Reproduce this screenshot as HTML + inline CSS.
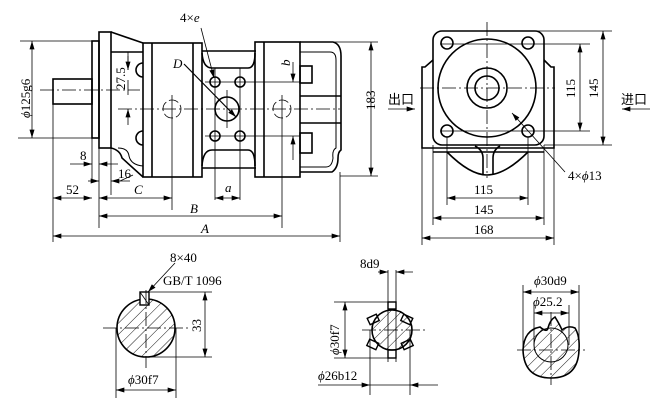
<!DOCTYPE html>
<html><head><meta charset="utf-8"><style>
html,body{margin:0;padding:0;background:#fff;}
svg{display:block;}
text{font-family:"Liberation Serif","Noto Serif CJK SC",serif;font-size:13px;fill:#000;}
.it{font-style:italic;}
.cjk{font-family:"Noto Sans CJK SC","WenQuanYi Zen Hei",sans-serif;font-size:13px;}
</style></head><body>
<svg width="661" height="415" viewBox="0 0 661 415" xmlns="http://www.w3.org/2000/svg">
<defs>
<marker id="ar" viewBox="0 0 10 6" refX="10" refY="3" markerWidth="9" markerHeight="5" orient="auto-start-reverse" markerUnits="userSpaceOnUse"><path d="M0,0 L10,3 L0,6 z" fill="#000"/></marker>
<pattern id="h" width="8" height="8" patternUnits="userSpaceOnUse" patternTransform="rotate(45)"><line x1="0" y1="0" x2="0" y2="8" stroke="#000" stroke-width="0.9"/></pattern>
</defs>
<g fill="none" stroke="#000" stroke-width="1.6">
<rect x="53" y="79" width="39" height="25"/>
<rect x="92" y="41" width="7" height="97"/>
<rect x="99" y="32" width="12" height="116"/>
<path d="M111,32 L143,43"/>
<path d="M111,52 L143,52"/>
<path d="M111,148 Q120,150 122,158 L143,177"/>
<path d="M118,148 Q128,148 129,156 Q131,165 143,166" stroke-width="1"/>
<path d="M143,63 A6,6 0 0 0 143,77 M143,131 A6,6 0 0 0 143,145"/>
<rect x="143" y="43" width="59" height="134"/>
<path d="M152,43 V177 M193,43 V177"/>
<path d="M202,51 H256 M202,168 H256"/>
<path d="M202,53 Q203,68 212,68 H248 Q255,68 255,53"/>
<path d="M202,166 Q203,150 212,150 H248 Q255,150 255,166"/>
<circle cx="215" cy="82" r="5"/><circle cx="240" cy="82" r="5"/>
<circle cx="215" cy="136" r="5"/><circle cx="240" cy="136" r="5"/>
<circle cx="227" cy="109" r="12"/>
<rect x="255" y="42" width="45" height="135"/>
<path d="M264,42 V177"/>
<path d="M300,42 H333 Q341,44 341,56 V150 Q338,152 338,158 Q338,168 332,172 H300"/>
<path d="M300,52 H330 Q336,52 336,60 V148 Q332,150 333,158 Q332,167 326,167 H300" stroke-width="1"/>
<rect x="300" y="66" width="12" height="17"/>
<rect x="300" y="133" width="12" height="20"/>
<path d="M300,96 H341 M300,123 H341" />
</g>
<g fill="none" stroke="#000" stroke-width="0.8">
<path d="M40,90 H140" stroke-dasharray="14,3,2,3"/>
<path d="M118,109 H340" stroke-dasharray="14,3,2,3"/>
<circle cx="172" cy="109" r="9" stroke-dasharray="10,3"/>
<circle cx="282" cy="109" r="9" stroke-dasharray="10,3"/>
<path d="M172,95 V210 M282,95 V228 M215,68 V200 M240,68 V200 M227,90 V128"/>
<path d="M205,82 H300 M205,136 H300"/>
<path d="M184,64 L236,117" marker-end="url(#ar)" stroke-width="1.2"/>
<path d="M201,28 L214,78" marker-end="url(#ar)"/>
<path d="M128,70 V52 M128,80 V95" /><path d="M128,56 V70" marker-end="url(#ar)"/><path d="M128,125 V109" marker-end="url(#ar)"/>
<path d="M293,62 V82" marker-end="url(#ar)"/><path d="M293,160 V136" marker-end="url(#ar)"/>
<path d="M215,198 H240" marker-start="url(#ar)" marker-end="url(#ar)"/>
<path d="M53,104 V242 M92,138 V180 M99,148 V228 M111,148 V195 M340,172 V242"/>
<path d="M20,41 H92 M18,138 H92 M300,42 H378 M340,176 H378"/>
<path d="M32,41 V138" marker-start="url(#ar)" marker-end="url(#ar)"/>
<path d="M371,42 V176" marker-start="url(#ar)" marker-end="url(#ar)"/>
<path d="M70,164 H92" marker-end="url(#ar)"/><path d="M118,164 H99" marker-end="url(#ar)"/>
<path d="M88,181 H99" marker-end="url(#ar)"/><path d="M130,181 H111" marker-end="url(#ar)"/><path d="M120,181 L133,175"/>
<path d="M53,198 H92" marker-start="url(#ar)" marker-end="url(#ar)"/>
<path d="M99,198 H172" marker-start="url(#ar)" marker-end="url(#ar)"/>
<path d="M99,216 H282" marker-start="url(#ar)" marker-end="url(#ar)"/>
<path d="M53,236 H340" marker-start="url(#ar)" marker-end="url(#ar)"/>
</g>
<text x="80" y="160">8</text>
<text x="118" y="178">16</text>
<text x="66" y="194">52</text>
<text x="134" y="194" class="it">C</text>
<text x="190" y="213" class="it">B</text>
<text x="201" y="233" class="it">A</text>
<text x="225" y="192" class="it">a</text>
<text x="173" y="68" class="it">D</text>
<text x="180" y="22">4×<tspan class="it">e</tspan></text>
<text transform="translate(290,66) rotate(-90)" class="it">b</text>
<text transform="translate(125,90) rotate(-90)">27.5</text>
<text transform="translate(30,118) rotate(-90)"><tspan class="it">ϕ</tspan>125g6</text>
<text transform="translate(375,110) rotate(-90)">183</text>

<g fill="none" stroke="#000" stroke-width="1.6">
<rect x="433" y="31" width="111" height="114" rx="9"/>
<path d="M433,60 L425,67 H422 V148 H554 V67 H551 L544,60"/>
<path d="M433,152 H544"/>
<path d="M447,152 Q470,175 487,175 Q505,175 528,152"/>
<path d="M475,146 Q483,150 483,158 V175 M493,175 V158 Q493,150 500,146"/>
<circle cx="487" cy="88" r="49"/>
<circle cx="487" cy="88" r="20"/>
<circle cx="487" cy="88" r="12"/>
<circle cx="447" cy="43" r="6"/><circle cx="528" cy="43" r="6"/>
<circle cx="447" cy="131" r="6"/><circle cx="528" cy="131" r="6"/>
</g>
<g fill="none" stroke="#000" stroke-width="0.8">
<path d="M487,22 V178 M420,88 H555" stroke-dasharray="14,3,2,3"/>
<path d="M440,44 H590 M440,131 H590 M480,31 H612 M544,145 H612"/>
<path d="M580,44 V131" marker-start="url(#ar)" marker-end="url(#ar)"/>
<path d="M603,31 V145" marker-start="url(#ar)" marker-end="url(#ar)"/>
<path d="M447,137 V205 M528,137 V205 M433,145 V225 M544,145 V225 M422,148 V245 M554,148 V245"/>
<path d="M447,198 H528" marker-start="url(#ar)" marker-end="url(#ar)"/>
<path d="M433,218 H544" marker-start="url(#ar)" marker-end="url(#ar)"/>
<path d="M422,238 H554" marker-start="url(#ar)" marker-end="url(#ar)"/>
<path d="M565,172 L512,113" marker-end="url(#ar)"/>
<path d="M388,109 H415" marker-end="url(#ar)"/>
<path d="M650,109 H622" marker-end="url(#ar)"/>
</g>
<text x="474" y="194">115</text>
<text x="474" y="214">145</text>
<text x="474" y="234">168</text>
<text x="568" y="180">4×<tspan class="it">ϕ</tspan>13</text>
<text transform="translate(575,98) rotate(-90)">115</text>
<text transform="translate(598,98) rotate(-90)">145</text>
<text x="388" y="104" class="cjk">出</text><text x="401" y="104" class="cjk">口</text>
<text x="621" y="104" class="cjk">进</text><text x="634" y="104" class="cjk">口</text>

<circle cx="146" cy="328" r="29" fill="url(#h)" stroke="#000" stroke-width="1.6"/>
<rect x="140" y="292" width="9" height="13" fill="#fff" stroke="#000" stroke-width="1.4"/>
<path d="M140,292 L149,305" stroke="#000" stroke-width="0.8"/>
<g fill="none" stroke="#000" stroke-width="0.8">
<path d="M103,328 H188 M146,290 V368" stroke-dasharray="14,3,2,3"/>
<path d="M149,292 H212 M146,357 H212 M116,328 V398 M176,328 V398"/>
<path d="M205,292 V357" marker-start="url(#ar)" marker-end="url(#ar)"/>
<path d="M116,390 H176" marker-start="url(#ar)" marker-end="url(#ar)"/>
<path d="M175,263 L148,292" marker-end="url(#ar)"/>
</g>
<text x="170" y="262">8×40</text>
<text x="163" y="285">GB/T 1096</text>
<text transform="translate(201,332) rotate(-90)">33</text>
<text x="128" y="384"><tspan class="it">ϕ</tspan>30f7</text>

<g stroke="#000" stroke-width="1.4" fill="#fff">
<rect x="368" y="316" width="10" height="7" transform="rotate(-25 373 319)"/>
<rect x="402" y="316" width="10" height="7" transform="rotate(25 407 319)"/>
<rect x="368" y="341" width="10" height="7" transform="rotate(25 373 344)"/>
<rect x="402" y="341" width="10" height="7" transform="rotate(-25 407 344)"/>
<rect x="388" y="302" width="8" height="7"/>
<rect x="388" y="350" width="8" height="8"/>
</g>
<circle cx="392" cy="330" r="20" fill="url(#h)" stroke="#000" stroke-width="1.6"/>
<g fill="none" stroke="#000" stroke-width="0.8">
<path d="M362,330 H425" stroke-dasharray="14,3,2,3"/>
<path d="M388,270 V362 M396,270 V362 M334,302 H392 M334,358 H392 M370,330 V395 M410,330 V395"/>
<path d="M378,272 H388" marker-end="url(#ar)"/><path d="M413,272 H396" marker-end="url(#ar)"/>
<path d="M345,302 V358" marker-start="url(#ar)" marker-end="url(#ar)"/>
<path d="M318,385 H370" marker-end="url(#ar)"/><path d="M438,385 H410" marker-end="url(#ar)"/>
<path d="M370,385 H410"/>
</g>
<text x="360" y="268">8d9</text>
<text transform="translate(339,355) rotate(-90)"><tspan class="it">ϕ</tspan>30f7</text>
<text x="318" y="380"><tspan class="it">ϕ</tspan>26b12</text>

<path d="M523,350 Q524,330 540,327 Q547,333 548,328 Q550,320 555,317 Q560,325 562,330 Q568,325 575,328 Q580,336 579,350 Q578,378 551,378 Q524,378 523,350 Z" fill="url(#h)" stroke="#000" stroke-width="1.6"/>
<circle cx="551" cy="345" r="17" fill="none" stroke="#000" stroke-width="1"/>
<g fill="none" stroke="#000" stroke-width="0.8">
<path d="M517,350 H585 M551,312 V385" stroke-dasharray="14,3,2,3"/>
<path d="M523,285 V350 M579,285 V350 M534,305 V345 M569,305 V345"/>
<path d="M523,292 H579" marker-start="url(#ar)" marker-end="url(#ar)"/>
<path d="M534,313 H569" marker-start="url(#ar)" marker-end="url(#ar)"/>
</g>
<text x="534" y="285"><tspan class="it">ϕ</tspan>30d9</text>
<text x="533" y="306"><tspan class="it">ϕ</tspan>25.2</text>
</svg>
</body></html>
